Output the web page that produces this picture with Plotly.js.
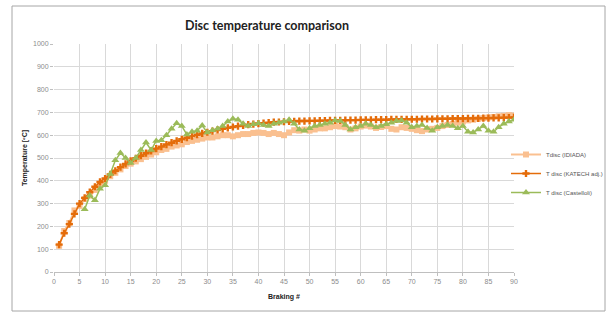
<!DOCTYPE html>
<html>
<head>
<meta charset="utf-8">
<script src="https://cdn.plot.ly/plotly-3.0.1.min.js"></script>
<style>
html,body{margin:0;padding:0;background:#fff;}
#chart{width:608px;height:312px;}
</style>
</head>
<body>
<div id="chart"></div>
<script>
var braking = [1,2,3,4,5,6,7,8,9,10,11,12,13,14,15,16,17,18,19,20,21,22,23,24,25,26,27,28,29,30,31,32,33,34,35,36,37,38,39,40,41,42,43,44,45,46,47,48,49,50,51,52,53,54,55,56,57,58,59,60,61,62,63,64,65,66,67,68,69,70,71,72,73,74,75,76,77,78,79,80,81,82,83,84,85,86,87,88,89,90];

var tIdiada = [115,180,215,270,290,320,335,360,385,400,
420,435,450,465,475,485,495,505,515,525,
535,540,550,555,560,570,575,580,585,590,
590,595,600,600,595,600,605,605,610,612,
610,605,610,605,600,612,622,620,625,620,
625,630,630,635,640,638,635,625,630,638,
642,638,632,636,640,628,625,635,632,628,
622,618,625,628,632,640,645,650,655,660,
665,668,672,675,678,680,683,685,688,686];

var tKatech = [120,170,210,255,300,325,350,374,395,410,
428,444,460,474,487,499,510,521,531,541,
550,559,567,575,582,589,596,602,608,613,
618,623,628,632,636,640,643,646,649,651,
653,655,657,658,659,660,661,662,662,663,
663,664,664,665,665,665,666,666,666,667,
667,667,668,668,668,669,669,669,670,670,
670,671,671,671,672,672,672,673,673,673,
674,674,674,675,675,676,676,677,677,678];

var tCastelloli = [null,null,null,null,null,275,335,315,365,380,
430,490,522,500,478,500,535,568,535,575,
578,600,628,652,640,603,615,620,642,612,
622,628,640,660,672,668,650,640,648,652,
645,640,650,655,660,668,650,625,620,630,
640,645,650,655,665,662,645,625,635,640,
650,645,635,640,648,655,662,665,655,635,
640,645,632,620,635,640,645,640,630,640,
615,612,625,640,620,615,635,650,660,668];

var xTicks = [0,5,10,15,20,25,30,35,40,45,50,55,60,65,70,75,80,85,90];
var yTicks = [0,100,200,300,400,500,600,700,800,900,1000];

var fam = "'Liberation Sans', Arial, sans-serif";
var titleFam = "Lato, 'Liberation Sans', sans-serif";

var traces = [
  {x: braking, y: tIdiada, name: 'Tdisc (IDIADA)', type: 'scatter', mode: 'lines+markers',
   line: {color: '#FAC090', width: 2}, marker: {symbol: 'square', size: 6, color: '#FAC090'}},
  {x: braking, y: tKatech, name: 'T disc (KATECH adj.)', type: 'scatter', mode: 'lines+markers',
   line: {color: '#E46C0A', width: 1.5}, marker: {symbol: 'cross', size: 6, color: '#E46C0A'}},
  {x: braking, y: tCastelloli, name: 'T disc (Castelloli)', type: 'scatter', mode: 'lines+markers',
   line: {color: '#9BBB59', width: 1.5}, marker: {symbol: 'triangle-up', size: 7, color: '#9BBB59'}}
];

var layout = {
  width: 608, height: 312,
  margin: {l: 54, r: 94, t: 44, b: 40, autoexpand: false},
  paper_bgcolor: '#fff', plot_bgcolor: '#fff',
  font: {family: fam, size: 7, color: '#808080'},
  title: {text: '<b>Disc temperature comparison</b>', x: 267/608, xref: 'container', xanchor: 'center',
          y: 1 - 26/312, yref: 'container', yanchor: 'middle',
          font: {family: titleFam, size: 12.5, color: '#222'}},
  xaxis: {range: [0, 90], tickvals: xTicks, ticktext: xTicks.map(String), showgrid: true,
          gridcolor: '#d9d9d9', gridwidth: 1, zeroline: false, showline: true, linecolor: '#bfbfbf',
          ticks: 'outside', ticklen: 3, tickcolor: '#bfbfbf', tickfont: {size: 7, color: '#8c8c8c'},
          title: {text: '<b>Braking #</b>', font: {size: 7, color: '#222'}, standoff: 9}},
  yaxis: {range: [0, 1000], tickvals: yTicks, ticktext: yTicks.map(String), showgrid: true,
          gridcolor: '#d9d9d9', gridwidth: 1, zeroline: false, showline: false,
          ticks: 'outside', ticklen: 3, tickcolor: '#bfbfbf', tickfont: {size: 7, color: '#8c8c8c'},
          title: {text: '<b>Temperature [ºC]</b>', font: {size: 7, color: '#222'}, standoff: 4}},
  legend: {x: 506/608, xref: 'container', y: 1 - 140/312, yref: 'container', xanchor: 'left', yanchor: 'top',
           bgcolor: 'rgba(0,0,0,0)', font: {size: 6, color: '#555'}, itemwidth: 30, tracegroupgap: 0},
  shapes: [{type: 'rect', xref: 'paper', yref: 'paper',
            x0: (12 - 54) / 460, x1: (605 - 54) / 460, y0: (272 - 311) / 228, y1: (272 - 6) / 228,
            line: {color: '#a6a6a6', width: 1}, fillcolor: 'rgba(0,0,0,0)', layer: 'below'}],
  showlegend: true
};

Plotly.newPlot('chart', traces, layout, {displayModeBar: false, staticPlot: true});
</script>
</body>
</html>
